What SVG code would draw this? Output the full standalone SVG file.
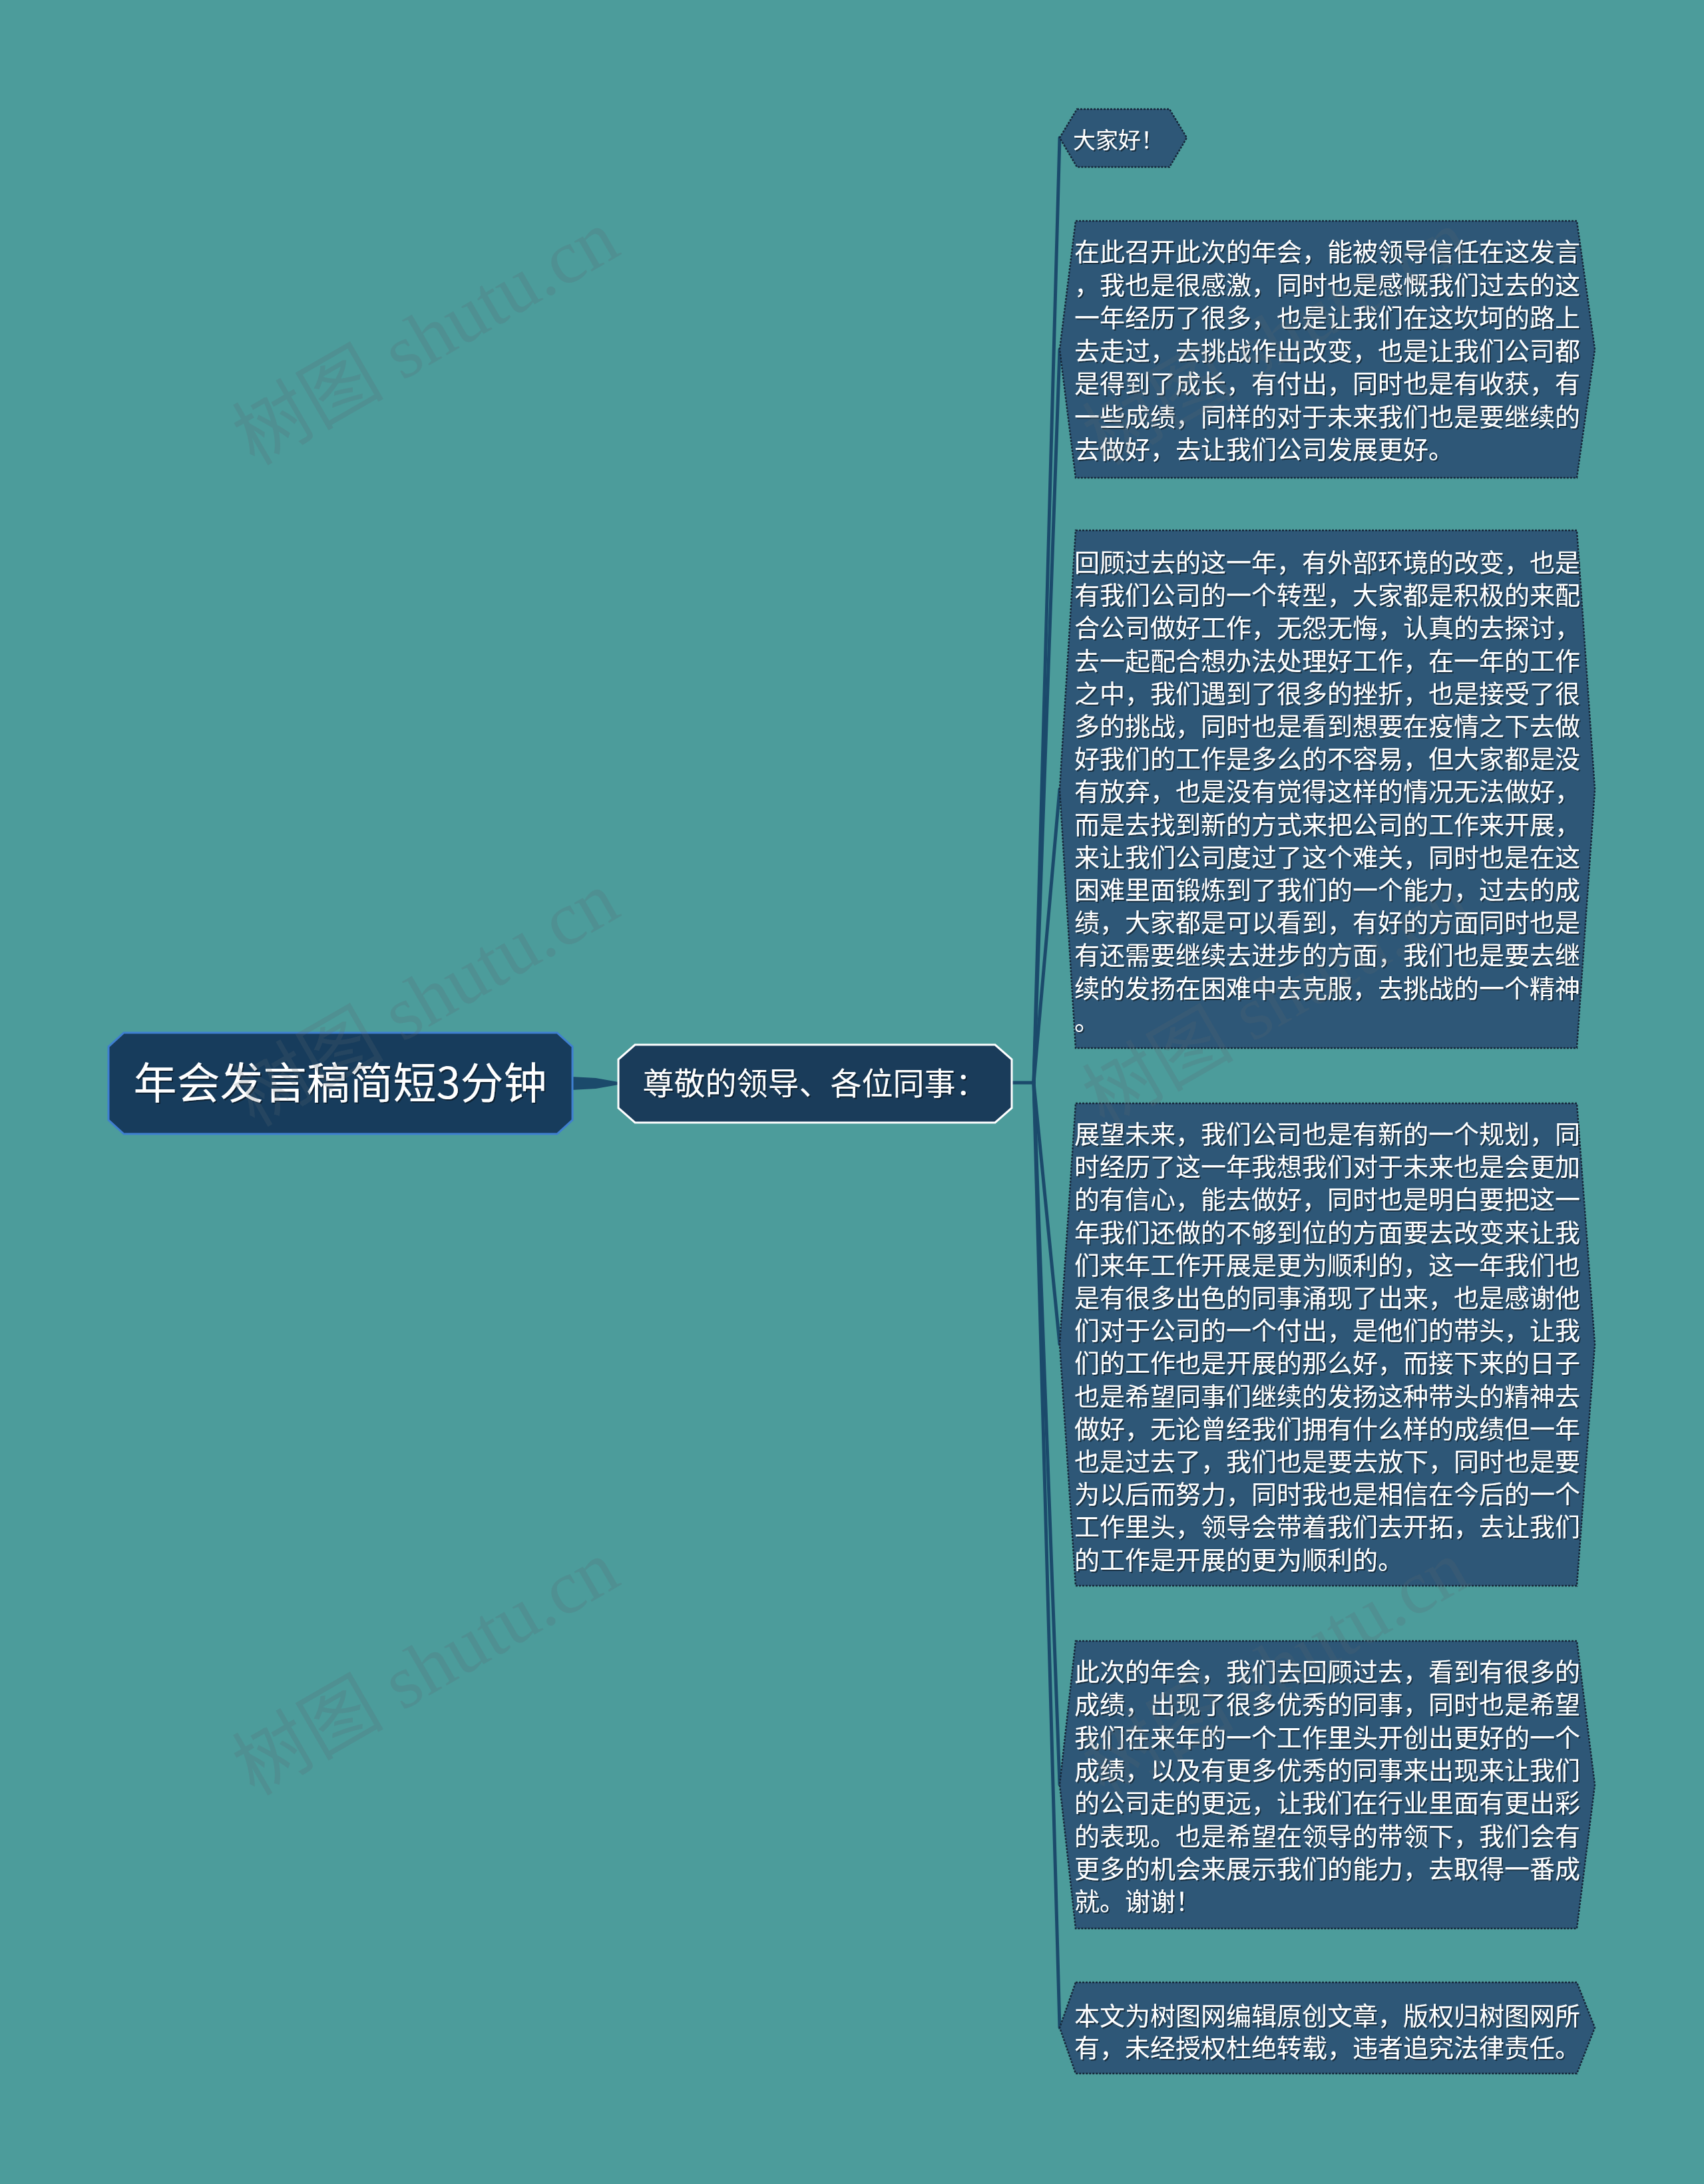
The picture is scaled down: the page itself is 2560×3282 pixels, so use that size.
<svg xmlns="http://www.w3.org/2000/svg" width="2560" height="3282" viewBox="0 0 2560 3282">
<defs>
<style>
.t{font-family:"Noto Sans CJK SC","Noto Sans",sans-serif;fill:#ffffff;}
.p{font-size:38px;}
.box{fill:#2e5777;stroke:#16273a;stroke-width:2.5;stroke-dasharray:3 2;}
.conn{fill:none;stroke:#1b4a6b;stroke-width:5;stroke-linecap:round;}
.wm{font-family:"Liberation Serif","Noto Sans CJK SC",serif;font-size:114px;fill:#5a6a72;fill-opacity:0.22;}
</style>
<filter id="sh" x="-5%" y="-5%" width="110%" height="110%">
<feDropShadow dx="2" dy="2" stdDeviation="0.6" flood-color="#000000" flood-opacity="0.45"/>
</filter>
</defs>
<rect x="0" y="0" width="2560" height="3282" fill="#4c9c9b"/>

<g id="connectors">
<polygon points="858,1618 895,1620 929,1626 929,1630 895,1636 858,1638" fill="#1b4a6b"/>
<path class="conn" d="M1520 1627 L1553 1627"/>
<path class="conn" d="M1553 1627 L1592 207"/>
<path class="conn" d="M1553 1627 L1592 525"/>
<path class="conn" d="M1553 1627 L1592 1186"/>
<path class="conn" d="M1553 1627 L1592 2020"/>
<path class="conn" d="M1553 1627 L1592 2682"/>
<path class="conn" d="M1553 1627 L1592 3047"/>
</g>

<g id="root">
<polygon points="186,1552 837,1552 860,1573 860,1683 837,1704 186,1704 163,1683 163,1573" fill="#173c5c" stroke="#3f7fd0" stroke-width="3"/>
<text class="t" x="511" y="1651" font-size="65" text-anchor="middle" filter="url(#sh)">年会发言稿简短3分钟</text>
</g>

<g id="n-main">
<polygon points="954,1570 1495,1570 1520,1592 1520,1665 1495,1687 954,1687 929,1665 929,1592" fill="#1a3c5a" stroke="#ffffff" stroke-width="3"/>
<text class="t" x="1224" y="1645" font-size="47" text-anchor="middle" filter="url(#sh)">尊敬的领导、各位同事：</text>
</g>

<g id="n-hello">
<polygon class="box" points="1618,164 1757,164 1783,207 1757,251 1618,251 1592,207"/>
<text class="t" x="1612" y="223" font-size="34" filter="url(#sh)">大家好！</text>
</g>

<g id="n-p1">
<polygon class="box" points="1616,332 2369,332 2396,525 2369,718 1616,718 1592,525"/>
<text class="t p" filter="url(#sh)">
<tspan x="1614" y="392">在此召开此次的年会，能被领导信任在这发言</tspan>
<tspan x="1614" dy="49.5">，我也是很感激，同时也是感慨我们过去的这</tspan>
<tspan x="1614" dy="49.5">一年经历了很多，也是让我们在这坎坷的路上</tspan>
<tspan x="1614" dy="49.5">去走过，去挑战作出改变，也是让我们公司都</tspan>
<tspan x="1614" dy="49.5">是得到了成长，有付出，同时也是有收获，有</tspan>
<tspan x="1614" dy="49.5">一些成绩，同样的对于未来我们也是要继续的</tspan>
<tspan x="1614" dy="49.5">去做好，去让我们公司发展更好。</tspan>
</text>
</g>

<g id="n-p2">
<polygon class="box" points="1616,797 2369,797 2396,1186 2369,1575 1616,1575 1592,1186"/>
<text class="t p" filter="url(#sh)">
<tspan x="1614" y="859">回顾过去的这一年，有外部环境的改变，也是</tspan>
<tspan x="1614" dy="49.2">有我们公司的一个转型，大家都是积极的来配</tspan>
<tspan x="1614" dy="49.2">合公司做好工作，无怨无悔，认真的去探讨，</tspan>
<tspan x="1614" dy="49.2">去一起配合想办法处理好工作，在一年的工作</tspan>
<tspan x="1614" dy="49.2">之中，我们遇到了很多的挫折，也是接受了很</tspan>
<tspan x="1614" dy="49.2">多的挑战，同时也是看到想要在疫情之下去做</tspan>
<tspan x="1614" dy="49.2">好我们的工作是多么的不容易，但大家都是没</tspan>
<tspan x="1614" dy="49.2">有放弃，也是没有觉得这样的情况无法做好，</tspan>
<tspan x="1614" dy="49.2">而是去找到新的方式来把公司的工作来开展，</tspan>
<tspan x="1614" dy="49.2">来让我们公司度过了这个难关，同时也是在这</tspan>
<tspan x="1614" dy="49.2">困难里面锻炼到了我们的一个能力，过去的成</tspan>
<tspan x="1614" dy="49.2">绩，大家都是可以看到，有好的方面同时也是</tspan>
<tspan x="1614" dy="49.2">有还需要继续去进步的方面，我们也是要去继</tspan>
<tspan x="1614" dy="49.2">续的发扬在困难中去克服，去挑战的一个精神</tspan>
<tspan x="1614" dy="49.2">。</tspan>
</text>
</g>

<g id="n-p3">
<polygon class="box" points="1616,1658 2369,1658 2396,2020 2369,2383 1616,2383 1592,2020"/>
<text class="t p" filter="url(#sh)">
<tspan x="1614" y="1718">展望未来，我们公司也是有新的一个规划，同</tspan>
<tspan x="1614" dy="49.2">时经历了这一年我想我们对于未来也是会更加</tspan>
<tspan x="1614" dy="49.2">的有信心，能去做好，同时也是明白要把这一</tspan>
<tspan x="1614" dy="49.2">年我们还做的不够到位的方面要去改变来让我</tspan>
<tspan x="1614" dy="49.2">们来年工作开展是更为顺利的，这一年我们也</tspan>
<tspan x="1614" dy="49.2">是有很多出色的同事涌现了出来，也是感谢他</tspan>
<tspan x="1614" dy="49.2">们对于公司的一个付出，是他们的带头，让我</tspan>
<tspan x="1614" dy="49.2">们的工作也是开展的那么好，而接下来的日子</tspan>
<tspan x="1614" dy="49.2">也是希望同事们继续的发扬这种带头的精神去</tspan>
<tspan x="1614" dy="49.2">做好，无论曾经我们拥有什么样的成绩但一年</tspan>
<tspan x="1614" dy="49.2">也是过去了，我们也是要去放下，同时也是要</tspan>
<tspan x="1614" dy="49.2">为以后而努力，同时我也是相信在今后的一个</tspan>
<tspan x="1614" dy="49.2">工作里头，领导会带着我们去开拓，去让我们</tspan>
<tspan x="1614" dy="49.2">的工作是开展的更为顺利的。</tspan>
</text>
</g>

<g id="n-p4">
<polygon class="box" points="1616,2466 2369,2466 2396,2682 2369,2898 1616,2898 1592,2682"/>
<text class="t p" filter="url(#sh)">
<tspan x="1614" y="2526">此次的年会，我们去回顾过去，看到有很多的</tspan>
<tspan x="1614" dy="49.3">成绩，出现了很多优秀的同事，同时也是希望</tspan>
<tspan x="1614" dy="49.3">我们在来年的一个工作里头开创出更好的一个</tspan>
<tspan x="1614" dy="49.3">成绩，以及有更多优秀的同事来出现来让我们</tspan>
<tspan x="1614" dy="49.3">的公司走的更远，让我们在行业里面有更出彩</tspan>
<tspan x="1614" dy="49.3">的表现。也是希望在领导的带领下，我们会有</tspan>
<tspan x="1614" dy="49.3">更多的机会来展示我们的能力，去取得一番成</tspan>
<tspan x="1614" dy="49.3">就。谢谢！</tspan>
</text>
</g>

<g id="n-footer">
<polygon class="box" points="1616,2979 2369,2979 2396,3047 2369,3116 1616,3116 1592,3047"/>
<text class="t p" filter="url(#sh)">
<tspan x="1614" y="3043">本文为树图网编辑原创文章，版权归树图网所</tspan>
<tspan x="1614" dy="48">有，未经授权杜绝转载，违者追究法律责任。</tspan>
</text>
</g>

<g id="watermarks">
<text class="wm" x="643" y="545" text-anchor="middle" transform="rotate(-30 643 513)">树图 shutu.cn</text>
<text class="wm" x="643" y="1539" text-anchor="middle" transform="rotate(-30 643 1507)">树图 shutu.cn</text>
<text class="wm" x="643" y="2544" text-anchor="middle" transform="rotate(-30 643 2512)">树图 shutu.cn</text>
<text class="wm" x="1920" y="545" text-anchor="middle" transform="rotate(-30 1920 513)">树图 shutu.cn</text>
<text class="wm" x="1920" y="1539" text-anchor="middle" transform="rotate(-30 1920 1507)">树图 shutu.cn</text>
<text class="wm" x="1920" y="2544" text-anchor="middle" transform="rotate(-30 1920 2512)">树图 shutu.cn</text>
</g>
</svg>
